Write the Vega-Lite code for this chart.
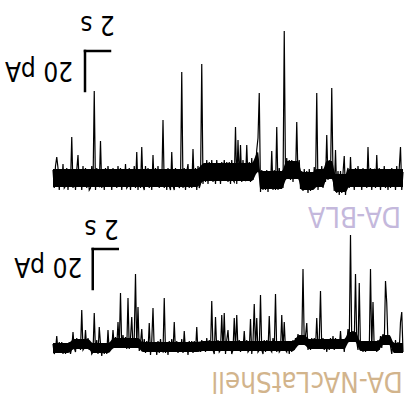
{
  "$schema": "https://vega.github.io/schema/vega-lite/v6.json",
  "width": 414,
  "height": 405,
  "padding": 0,
  "autosize": {"type": "none"},
  "config": {"view": {"stroke": null}},
  "datasets": {
    "bla": [
      {"t":0.0,"i":4},{"t":0.1,"i":-5},{"t":0.2,"i":6},{"t":0.3,"i":10.5},{"t":0.4,"i":5},{"t":0.5,"i":-6},{"t":0.6,"i":3},{"t":0.7,"i":-4},{"t":0.8,"i":7},{"t":0.9,"i":-5},
      {"t":1.0,"i":-4},{"t":1.1,"i":5},{"t":1.2,"i":-6},{"t":1.3,"i":4},{"t":1.4,"i":-3},{"t":1.5,"i":20.5},{"t":1.6,"i":-5},{"t":1.7,"i":3},{"t":1.8,"i":-6},{"t":1.9,"i":4},
      {"t":2.0,"i":11.5},{"t":2.1,"i":-3},{"t":2.2,"i":4},{"t":2.3,"i":-6},{"t":2.4,"i":6},{"t":2.5,"i":-4},{"t":2.6,"i":5},{"t":2.7,"i":-5},{"t":2.8,"i":3},{"t":2.9,"i":-6},
      {"t":3.0,"i":-5},{"t":3.1,"i":6},{"t":3.2,"i":-4},{"t":3.3,"i":43.5},{"t":3.4,"i":-6},{"t":3.5,"i":5},{"t":3.6,"i":-3},{"t":3.7,"i":-4},{"t":3.8,"i":18.5},{"t":3.9,"i":-5},
      {"t":4.0,"i":3},{"t":4.1,"i":-6},{"t":4.2,"i":5},{"t":4.3,"i":-4},{"t":4.4,"i":6},{"t":4.5,"i":-3},{"t":4.6,"i":4},{"t":4.7,"i":-6},{"t":4.8,"i":5},{"t":4.9,"i":-4},
      {"t":5.0,"i":4},{"t":5.1,"i":-5},{"t":5.2,"i":6},{"t":5.3,"i":-3},{"t":5.4,"i":5},{"t":5.5,"i":-6},{"t":5.6,"i":3},{"t":5.7,"i":-4},{"t":5.8,"i":7},{"t":5.9,"i":-5},
      {"t":6.0,"i":-4},{"t":6.1,"i":5},{"t":6.2,"i":-6},{"t":6.3,"i":4},{"t":6.4,"i":-3},{"t":6.5,"i":6},{"t":6.6,"i":-5},{"t":6.7,"i":13},{"t":6.8,"i":-6},{"t":6.9,"i":4},
      {"t":7.0,"i":-5},{"t":7.1,"i":15.5},{"t":7.2,"i":-4},{"t":7.3,"i":-6},{"t":7.4,"i":6},{"t":7.5,"i":-4},{"t":7.6,"i":5},{"t":7.7,"i":-5},{"t":7.8,"i":3},{"t":7.9,"i":-6},
      {"t":8.0,"i":11.5},{"t":8.1,"i":-4},{"t":8.2,"i":5},{"t":8.3,"i":-3},{"t":8.4,"i":6},{"t":8.5,"i":-5},{"t":8.6,"i":3},{"t":8.7,"i":-4},{"t":8.8,"i":29},{"t":8.9,"i":-5},
      {"t":9.0,"i":3},{"t":9.1,"i":-6},{"t":9.2,"i":5},{"t":9.3,"i":-4},{"t":9.4,"i":-6},{"t":9.5,"i":13},{"t":9.6,"i":-4},{"t":9.7,"i":-6},{"t":9.8,"i":5},{"t":9.9,"i":-4},
      {"t":10.0,"i":4},{"t":10.1,"i":-5},{"t":10.2,"i":-3},{"t":10.3,"i":53},{"t":10.4,"i":-5},{"t":10.5,"i":5},{"t":10.6,"i":-6},{"t":10.7,"i":3},{"t":10.8,"i":7},{"t":10.9,"i":-5},
      {"t":11.0,"i":4},{"t":11.1,"i":-5},{"t":11.2,"i":14.5},{"t":11.3,"i":-4},{"t":11.4,"i":5},{"t":11.5,"i":-6},{"t":11.6,"i":6},{"t":11.7,"i":-5},{"t":11.8,"i":-3},{"t":11.9,"i":57},
      {"t":12.0,"i":-3},{"t":12.1,"i":7},{"t":12.2,"i":-2},{"t":12.3,"i":9},{"t":12.4,"i":-3},{"t":12.5,"i":8},{"t":12.6,"i":-1},{"t":12.7,"i":9},{"t":12.8,"i":-2},{"t":12.9,"i":6},
      {"t":13.0,"i":-3},{"t":13.1,"i":9},{"t":13.2,"i":-1},{"t":13.3,"i":6},{"t":13.4,"i":-3},{"t":13.5,"i":8},{"t":13.6,"i":0},{"t":13.7,"i":9},{"t":13.8,"i":-1},{"t":13.9,"i":8},
      {"t":14.0,"i":-2},{"t":14.1,"i":8},{"t":14.2,"i":-3},{"t":14.3,"i":9},{"t":14.4,"i":-1},{"t":14.5,"i":-2},{"t":14.6,"i":25.5},{"t":14.7,"i":-3},{"t":14.8,"i":19},{"t":14.9,"i":-1},
      {"t":15.0,"i":16.5},{"t":15.1,"i":-2},{"t":15.2,"i":9},{"t":15.3,"i":0},{"t":15.4,"i":-1},{"t":15.5,"i":16.5},{"t":15.6,"i":-1},{"t":15.7,"i":8},{"t":15.8,"i":-2},{"t":15.9,"i":10},
      {"t":16.0,"i":-1},{"t":16.1,"i":8},{"t":16.2,"i":5},{"t":16.3,"i":14},{"t":16.4,"i":20},{"t":16.5,"i":42.5},{"t":16.6,"i":-7},{"t":16.7,"i":4},{"t":16.8,"i":-6},{"t":16.9,"i":3},
      {"t":17.0,"i":-6},{"t":17.1,"i":4},{"t":17.2,"i":-7},{"t":17.3,"i":3},{"t":17.4,"i":-5},{"t":17.5,"i":13.5},{"t":17.6,"i":-6},{"t":17.7,"i":4},{"t":17.8,"i":-6},{"t":17.9,"i":25.5},
      {"t":18.0,"i":-6},{"t":18.1,"i":5},{"t":18.2,"i":-5},{"t":18.3,"i":2},{"t":18.4,"i":-5},{"t":18.5,"i":73.5},{"t":18.6,"i":0},{"t":18.7,"i":10},{"t":18.8,"i":0},{"t":18.9,"i":9},
      {"t":19.0,"i":-1},{"t":19.1,"i":9},{"t":19.2,"i":-2},{"t":19.3,"i":8},{"t":19.4,"i":0},{"t":19.5,"i":28},{"t":19.6,"i":0},{"t":19.7,"i":9},{"t":19.8,"i":-5.5},{"t":19.9,"i":3.5},
      {"t":20.0,"i":-6.5},{"t":20.1,"i":4.5},{"t":20.2,"i":-5.5},{"t":20.3,"i":3.5},{"t":20.4,"i":-7.5},{"t":20.5,"i":4.5},{"t":20.6,"i":-6.5},{"t":20.7,"i":2.5},{"t":20.8,"i":-5.5},{"t":20.9,"i":5.5},
      {"t":21.0,"i":-4},{"t":21.1,"i":42.5},{"t":21.2,"i":-6},{"t":21.3,"i":4},{"t":21.4,"i":-3},{"t":21.5,"i":6},{"t":21.6,"i":-5},{"t":21.7,"i":3},{"t":21.8,"i":-2},{"t":21.9,"i":21.5},
      {"t":22.0,"i":-1},{"t":22.1,"i":9},{"t":22.2,"i":0},{"t":22.3,"i":45},{"t":22.4,"i":1},{"t":22.5,"i":-6.5},{"t":22.6,"i":14},{"t":22.7,"i":-7.5},{"t":22.8,"i":3.5},{"t":22.9,"i":-8.5},
      {"t":23.0,"i":3.5},{"t":23.1,"i":-7.5},{"t":23.2,"i":2.5},{"t":23.3,"i":11},{"t":23.4,"i":-8.5},{"t":23.5,"i":2.5},{"t":23.6,"i":5},{"t":23.7,"i":-5},{"t":23.8,"i":10.5},{"t":23.9,"i":-4},
      {"t":24.0,"i":3},{"t":24.1,"i":-6},{"t":24.2,"i":5},{"t":24.3,"i":-4},{"t":24.4,"i":6},{"t":24.5,"i":-3},{"t":24.6,"i":4},{"t":24.7,"i":-6},{"t":24.8,"i":5},{"t":24.9,"i":-4},
      {"t":25.0,"i":4},{"t":25.1,"i":-5},{"t":25.2,"i":15.5},{"t":25.3,"i":-3},{"t":25.4,"i":5},{"t":25.5,"i":-6},{"t":25.6,"i":3},{"t":25.7,"i":4},{"t":25.8,"i":-5},{"t":25.9,"i":11.5},
      {"t":26.0,"i":-4},{"t":26.1,"i":5},{"t":26.2,"i":-6},{"t":26.3,"i":4},{"t":26.4,"i":-3},{"t":26.5,"i":6},{"t":26.6,"i":-5},{"t":26.7,"i":3},{"t":26.8,"i":-6},{"t":26.9,"i":4},
      {"t":27.0,"i":-5},{"t":27.1,"i":5},{"t":27.2,"i":-3},{"t":27.3,"i":4},{"t":27.4,"i":-6},{"t":27.5,"i":6},{"t":27.6,"i":-4},{"t":27.7,"i":5},{"t":27.8,"i":15.5},{"t":27.9,"i":-6},
      {"t":28.0,"i":3}
    ],
    "blaBand": [
      {"t":0,"lo":-4.5,"hi":4.5},{"t":11.5,"lo":-4.5,"hi":4.5},{"t":12.1,"lo":-1.5,"hi":7.5},{"t":15.9,"lo":-1.5,"hi":7.5},
      {"t":16.4,"lo":3,"hi":13},{"t":16.6,"lo":-5.5,"hi":3.5},{"t":18.3,"lo":-5.5,"hi":3.5},{"t":18.7,"lo":-0.5,"hi":8.5},
      {"t":19.6,"lo":-0.5,"hi":8.5},{"t":19.9,"lo":-6,"hi":3},{"t":20.8,"lo":-6,"hi":3},{"t":21.1,"lo":-4.5,"hi":4.5},
      {"t":21.6,"lo":-4.5,"hi":4.5},{"t":21.9,"lo":-0.5,"hi":8.5},{"t":22.3,"lo":-0.5,"hi":8.5},{"t":22.6,"lo":-7,"hi":2},
      {"t":23.4,"lo":-7,"hi":2},{"t":23.7,"lo":-4.5,"hi":4.5},{"t":28,"lo":-4.5,"hi":4.5}
    ],
    "nac": [
      {"t":0.0,"i":2},{"t":0.1,"i":-3},{"t":0.2,"i":-1},{"t":0.3,"i":6},{"t":0.4,"i":-2},{"t":0.5,"i":3},{"t":0.6,"i":-2},{"t":0.7,"i":3},{"t":0.8,"i":-3},{"t":0.9,"i":2},
      {"t":1.0,"i":-3},{"t":1.1,"i":2},{"t":1.2,"i":-2},{"t":1.3,"i":3},{"t":1.4,"i":-3},{"t":1.5,"i":0},{"t":1.6,"i":8},{"t":1.7,"i":0},{"t":1.8,"i":-2},{"t":1.9,"i":5},
      {"t":2.0,"i":0},{"t":2.1,"i":4},{"t":2.2,"i":-1},{"t":2.3,"i":19},{"t":2.4,"i":-1},{"t":2.5,"i":0},{"t":2.6,"i":9},{"t":2.7,"i":0},{"t":2.8,"i":5},{"t":2.9,"i":-1},
      {"t":3.0,"i":2},{"t":3.1,"i":-3},{"t":3.2,"i":-2},{"t":3.3,"i":17.5},{"t":3.4,"i":-2},{"t":3.5,"i":4},{"t":3.6,"i":-3},{"t":3.7,"i":10.5},{"t":3.8,"i":2},{"t":3.9,"i":-4},
      {"t":4.0,"i":2},{"t":4.1,"i":-3},{"t":4.2,"i":2},{"t":4.3,"i":-3},{"t":4.4,"i":9},{"t":4.5,"i":-2},{"t":4.6,"i":0.5},{"t":4.7,"i":0},{"t":4.8,"i":9},{"t":4.9,"i":1},
      {"t":5.0,"i":5.5},{"t":5.1,"i":0.5},{"t":5.2,"i":13},{"t":5.3,"i":0.5},{"t":5.4,"i":27.5},{"t":5.5,"i":0},{"t":5.6,"i":6.5},{"t":5.7,"i":0.5},{"t":5.8,"i":5.5},{"t":5.9,"i":-0.5},
      {"t":6.0,"i":25},{"t":6.1,"i":-0.5},{"t":6.2,"i":5},{"t":6.3,"i":15.5},{"t":6.4,"i":0.5},{"t":6.5,"i":5},{"t":6.6,"i":37},{"t":6.7,"i":0.5},{"t":6.8,"i":20.5},{"t":6.9,"i":-1.5},
      {"t":7.0,"i":2.5},{"t":7.1,"i":9.5},{"t":7.2,"i":-1.5},{"t":7.3,"i":4.5},{"t":7.4,"i":-2.5},{"t":7.5,"i":3.5},{"t":7.6,"i":-1.5},{"t":7.7,"i":12.5},{"t":7.8,"i":-3.5},{"t":7.9,"i":3.5},
      {"t":8.0,"i":20},{"t":8.1,"i":-1.5},{"t":8.2,"i":2.5},{"t":8.3,"i":-3.5},{"t":8.4,"i":3.5},{"t":8.5,"i":-2.5},{"t":8.6,"i":4.5},{"t":8.7,"i":-1.5},{"t":8.8,"i":-2},{"t":8.9,"i":25},
      {"t":9.0,"i":-2.5},{"t":9.1,"i":2.5},{"t":9.2,"i":-3.5},{"t":9.3,"i":3.5},{"t":9.4,"i":-1.5},{"t":9.5,"i":4.5},{"t":9.6,"i":-2},{"t":9.7,"i":13},{"t":9.8,"i":-2},{"t":9.9,"i":3.5},
      {"t":10.0,"i":-2.5},{"t":10.1,"i":2.5},{"t":10.2,"i":-1.5},{"t":10.3,"i":4.5},{"t":10.4,"i":-2.5},{"t":10.5,"i":8.5},{"t":10.6,"i":-1.5},{"t":10.7,"i":2.5},{"t":10.8,"i":-3.5},{"t":10.9,"i":3.5},
      {"t":11.0,"i":-1.5},{"t":11.1,"i":3.5},{"t":11.2,"i":-2.5},{"t":11.3,"i":3.5},{"t":11.4,"i":-2},{"t":11.5,"i":10.5},{"t":11.6,"i":-2},{"t":11.7,"i":3},{"t":11.8,"i":-2},{"t":11.9,"i":4},
      {"t":12.0,"i":-1},{"t":12.1,"i":3},{"t":12.2,"i":-2},{"t":12.3,"i":5},{"t":12.4,"i":-1},{"t":12.5,"i":4},{"t":12.6,"i":-1},{"t":12.7,"i":23.5},{"t":12.8,"i":-1},{"t":12.9,"i":-3},
      {"t":13.0,"i":15.5},{"t":13.1,"i":-1},{"t":13.2,"i":4},{"t":13.3,"i":-2},{"t":13.4,"i":-1},{"t":13.5,"i":16.5},{"t":13.6,"i":-1},{"t":13.7,"i":17.5},{"t":13.8,"i":-3},{"t":13.9,"i":4},
      {"t":14.0,"i":9},{"t":14.1,"i":-1},{"t":14.2,"i":3},{"t":14.3,"i":-3},{"t":14.4,"i":-1},{"t":14.5,"i":15},{"t":14.6,"i":-1},{"t":14.7,"i":16.5},{"t":14.8,"i":-1},{"t":14.9,"i":4},
      {"t":15.0,"i":-2},{"t":15.1,"i":3},{"t":15.2,"i":-1},{"t":15.3,"i":8.5},{"t":15.4,"i":-1},{"t":15.5,"i":4},{"t":15.6,"i":-2},{"t":15.7,"i":-1},{"t":15.8,"i":14.5},{"t":15.9,"i":-3},
      {"t":16.0,"i":3},{"t":16.1,"i":22},{"t":16.2,"i":-1},{"t":16.3,"i":15},{"t":16.4,"i":-2},{"t":16.5,"i":-1},{"t":16.6,"i":26.5},{"t":16.7,"i":-1},{"t":16.8,"i":-3},{"t":16.9,"i":4},
      {"t":17.0,"i":-2},{"t":17.1,"i":4},{"t":17.2,"i":-1},{"t":17.3,"i":16},{"t":17.4,"i":-1},{"t":17.5,"i":-2},{"t":17.6,"i":5},{"t":17.7,"i":-1},{"t":17.8,"i":27},{"t":17.9,"i":-2},
      {"t":18.0,"i":3},{"t":18.1,"i":-2},{"t":18.2,"i":-1},{"t":18.3,"i":16.5},{"t":18.4,"i":-1},{"t":18.5,"i":13},{"t":18.6,"i":-1},{"t":18.7,"i":-2},{"t":18.8,"i":3},{"t":18.9,"i":-3},
      {"t":19.0,"i":3},{"t":19.1,"i":-2},{"t":19.2,"i":4},{"t":19.3,"i":-1},{"t":19.4,"i":5},{"t":19.5,"i":2},{"t":19.6,"i":7},{"t":19.7,"i":2},{"t":19.8,"i":6},{"t":19.9,"i":2},
      {"t":20.0,"i":39.5},{"t":20.1,"i":2},{"t":20.2,"i":6},{"t":20.3,"i":12.5},{"t":20.4,"i":-1},{"t":20.5,"i":4},{"t":20.6,"i":-1},{"t":20.7,"i":5},{"t":20.8,"i":0},{"t":20.9,"i":5},
      {"t":21.0,"i":0},{"t":21.1,"i":15},{"t":21.2,"i":0},{"t":21.3,"i":4},{"t":21.4,"i":28.5},{"t":21.5,"i":0},{"t":21.6,"i":5},{"t":21.7,"i":-1},{"t":21.8,"i":4},{"t":21.9,"i":-2},
      {"t":22.0,"i":4},{"t":22.1,"i":-1},{"t":22.2,"i":5},{"t":22.3,"i":0},{"t":22.4,"i":6},{"t":22.5,"i":-1},{"t":22.6,"i":5},{"t":22.7,"i":0},{"t":22.8,"i":4},{"t":22.9,"i":0},
      {"t":23.0,"i":8.5},{"t":23.1,"i":0},{"t":23.2,"i":4},{"t":23.3,"i":-2},{"t":23.4,"i":5},{"t":23.5,"i":2.5},{"t":23.6,"i":9.5},{"t":23.7,"i":3},{"t":23.8,"i":56.5},{"t":23.9,"i":3},
      {"t":24.0,"i":8.5},{"t":24.1,"i":3},{"t":24.2,"i":37},{"t":24.3,"i":3},{"t":24.4,"i":-1},{"t":24.5,"i":32.5},{"t":24.6,"i":-1},{"t":24.7,"i":3},{"t":24.8,"i":-2},{"t":24.9,"i":3},
      {"t":25.0,"i":-2},{"t":25.1,"i":3},{"t":25.2,"i":3},{"t":25.3,"i":-1},{"t":25.4,"i":39.5},{"t":25.5,"i":-1},{"t":25.6,"i":23},{"t":25.7,"i":-1},{"t":25.8,"i":3},{"t":25.9,"i":-2},
      {"t":26.0,"i":4},{"t":26.1,"i":-1},{"t":26.2,"i":6},{"t":26.3,"i":0},{"t":26.4,"i":7},{"t":26.5,"i":2},{"t":26.6,"i":33.5},{"t":26.7,"i":22.5},{"t":26.8,"i":2},{"t":26.9,"i":6},
      {"t":27.0,"i":1},{"t":27.1,"i":-3},{"t":27.2,"i":3},{"t":27.3,"i":-2},{"t":27.4,"i":4},{"t":27.5,"i":-2},{"t":27.6,"i":3},{"t":27.7,"i":-1},{"t":27.8,"i":13},{"t":27.9,"i":18},
      {"t":28.0,"i":-2}
    ],
    "nacBand": [
      {"t":0,"lo":-2.5,"hi":2.5},{"t":1.2,"lo":-2.5,"hi":2.5},{"t":1.7,"lo":-0.5,"hi":4.5},{"t":2.8,"lo":-0.5,"hi":4.5},
      {"t":3.2,"lo":-2.5,"hi":2.5},{"t":4.4,"lo":-2.5,"hi":2.5},{"t":4.9,"lo":0,"hi":5},{"t":6.8,"lo":0,"hi":5},
      {"t":7.2,"lo":-2,"hi":3},{"t":11.5,"lo":-2,"hi":3},{"t":12.0,"lo":-1.5,"hi":3.5},{"t":19.2,"lo":-1.5,"hi":3.5},
      {"t":19.7,"lo":1.5,"hi":6.5},{"t":20.1,"lo":1.5,"hi":6.5},{"t":20.5,"lo":-0.5,"hi":4.5},{"t":23.3,"lo":-0.5,"hi":4.5},
      {"t":23.7,"lo":3,"hi":8},{"t":24.2,"lo":3,"hi":8},{"t":24.6,"lo":-1.5,"hi":3.5},{"t":26.0,"lo":-1.5,"hi":3.5},
      {"t":26.4,"lo":1.5,"hi":6.5},{"t":26.9,"lo":1.5,"hi":6.5},{"t":27.3,"lo":-2.5,"hi":2.5},{"t":28,"lo":-2.5,"hi":2.5}
    ],
    "blaBar": [
      {"t":2.56,"t2":2.56,"i":43.5,"i2":63.5},
      {"t":2.56,"t2":4.56,"i":63.5,"i2":63.5}
    ],
    "nacBar": [
      {"t":3.18,"t2":3.18,"i":29.5,"i2":49.5},
      {"t":3.18,"t2":5.18,"i":49.5,"i2":49.5}
    ],
    "blaText": [
      {"t":-1.12,"i":54,"label":"20 pA"},
      {"t":3.56,"i":77,"label":"2 s"}
    ],
    "nacText": [
      {"t":-0.38,"i":41,"label":"20 pA"},
      {"t":3.88,"i":60,"label":"2 s"}
    ],
    "blaName": [{"t":24.12,"i":-18.4,"label":"DA-BLA"}],
    "nacName": [{"t":20.32,"i":-16,"label":"DA-NAcLatShell"}]
  },
  "resolve": {"scale": {"y": "independent"}},
  "layer": [
    {
      "layer": [
        {
          "data": {"name": "blaBand"},
          "mark": {"type": "area", "color": "#000000", "opacity": 1, "interpolate": "monotone"},
          "encoding": {
            "x": {"field": "t", "type": "quantitative", "scale": {"domain": [-4.24, 28.88], "nice": false, "zero": false}, "axis": null},
            "y": {"field": "lo", "type": "quantitative", "scale": {"domain": [-113.5, 89], "nice": false, "zero": false}, "axis": null},
            "y2": {"field": "hi"}
          }
        },
        {
          "data": {"name": "bla"},
          "mark": {"type": "line", "color": "#000000", "strokeWidth": 1.2},
          "encoding": {
            "x": {"field": "t", "type": "quantitative", "scale": {"domain": [-4.24, 28.88], "nice": false, "zero": false}, "axis": null},
            "y": {"field": "i", "type": "quantitative", "scale": {"domain": [-113.5, 89], "nice": false, "zero": false}, "axis": null}
          }
        },
        {
          "data": {"name": "blaBar"},
          "mark": {"type": "rule", "color": "#000000", "strokeWidth": 2.5, "strokeCap": "square"},
          "encoding": {
            "x": {"field": "t", "type": "quantitative", "scale": {"domain": [-4.24, 28.88], "nice": false, "zero": false}, "axis": null},
            "x2": {"field": "t2"},
            "y": {"field": "i", "type": "quantitative", "scale": {"domain": [-113.5, 89], "nice": false, "zero": false}, "axis": null},
            "y2": {"field": "i2"}
          }
        },
        {
          "data": {"name": "blaText"},
          "mark": {"type": "text", "color": "#000000", "fontSize": 26, "font": "DejaVu Sans Condensed, sans-serif", "angle": 180, "align": "center", "baseline": "middle"},
          "encoding": {
            "x": {"field": "t", "type": "quantitative", "scale": {"domain": [-4.24, 28.88], "nice": false, "zero": false}, "axis": null},
            "y": {"field": "i", "type": "quantitative", "scale": {"domain": [-113.5, 89], "nice": false, "zero": false}, "axis": null},
            "text": {"field": "label"}
          }
        },
        {
          "data": {"name": "blaName"},
          "mark": {"type": "text", "color": "#c4b8dc", "fontSize": 28, "font": "DejaVu Sans Condensed, sans-serif", "angle": 180, "align": "center", "baseline": "middle"},
          "encoding": {
            "x": {"field": "t", "type": "quantitative", "scale": {"domain": [-4.24, 28.88], "nice": false, "zero": false}, "axis": null},
            "y": {"field": "i", "type": "quantitative", "scale": {"domain": [-113.5, 89], "nice": false, "zero": false}, "axis": null},
            "text": {"field": "label"}
          }
        }
      ]
    },
    {
      "layer": [
        {
          "data": {"name": "nacBand"},
          "mark": {"type": "area", "color": "#000000", "opacity": 1, "interpolate": "monotone"},
          "encoding": {
            "x": {"field": "t", "type": "quantitative", "scale": {"domain": [-4.24, 28.88], "nice": false, "zero": false}, "axis": null},
            "y": {"field": "lo", "type": "quantitative", "scale": {"domain": [-28.5, 174], "nice": false, "zero": false}, "axis": null},
            "y2": {"field": "hi"}
          }
        },
        {
          "data": {"name": "nac"},
          "mark": {"type": "line", "color": "#000000", "strokeWidth": 1.2},
          "encoding": {
            "x": {"field": "t", "type": "quantitative", "scale": {"domain": [-4.24, 28.88], "nice": false, "zero": false}, "axis": null},
            "y": {"field": "i", "type": "quantitative", "scale": {"domain": [-28.5, 174], "nice": false, "zero": false}, "axis": null}
          }
        },
        {
          "data": {"name": "nacBar"},
          "mark": {"type": "rule", "color": "#000000", "strokeWidth": 2.5, "strokeCap": "square"},
          "encoding": {
            "x": {"field": "t", "type": "quantitative", "scale": {"domain": [-4.24, 28.88], "nice": false, "zero": false}, "axis": null},
            "x2": {"field": "t2"},
            "y": {"field": "i", "type": "quantitative", "scale": {"domain": [-28.5, 174], "nice": false, "zero": false}, "axis": null},
            "y2": {"field": "i2"}
          }
        },
        {
          "data": {"name": "nacText"},
          "mark": {"type": "text", "color": "#000000", "fontSize": 26, "font": "DejaVu Sans Condensed, sans-serif", "angle": 180, "align": "center", "baseline": "middle"},
          "encoding": {
            "x": {"field": "t", "type": "quantitative", "scale": {"domain": [-4.24, 28.88], "nice": false, "zero": false}, "axis": null},
            "y": {"field": "i", "type": "quantitative", "scale": {"domain": [-28.5, 174], "nice": false, "zero": false}, "axis": null},
            "text": {"field": "label"}
          }
        },
        {
          "data": {"name": "nacName"},
          "mark": {"type": "text", "color": "#d2b48c", "fontSize": 27.5, "font": "DejaVu Sans Condensed, sans-serif", "angle": 180, "align": "center", "baseline": "middle"},
          "encoding": {
            "x": {"field": "t", "type": "quantitative", "scale": {"domain": [-4.24, 28.88], "nice": false, "zero": false}, "axis": null},
            "y": {"field": "i", "type": "quantitative", "scale": {"domain": [-28.5, 174], "nice": false, "zero": false}, "axis": null},
            "text": {"field": "label"}
          }
        }
      ]
    }
  ]
}
